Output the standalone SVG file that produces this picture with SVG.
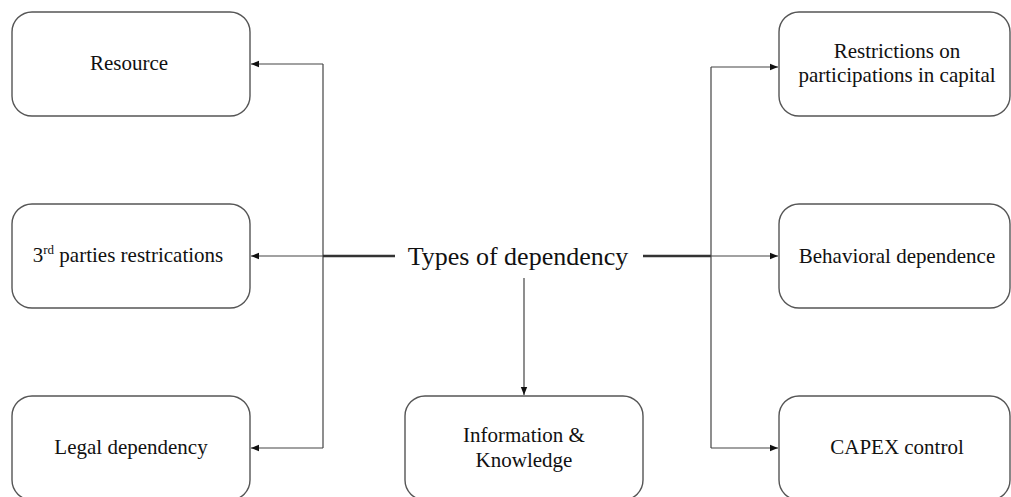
<svg xmlns="http://www.w3.org/2000/svg" width="1011" height="497" viewBox="0 0 1011 497">
<style>
.box{fill:#fff;stroke:#555;stroke-width:1.4}
.lbl{font-family:"Liberation Serif","Times New Roman",serif;font-size:21px;fill:#111;text-anchor:middle}
.title{font-family:"Liberation Serif","Times New Roman",serif;font-size:26px;fill:#111;text-anchor:middle}
.ln{fill:none;stroke:#444;stroke-width:1.2}
.thick{fill:none;stroke:#333;stroke-width:2.6}
</style>
<defs>
<marker id="ah" viewBox="0 0 10 10" refX="10" refY="5" markerWidth="8" markerHeight="8" markerUnits="userSpaceOnUse" orient="auto">
<path d="M0,1 L10,5 L0,9 Z" fill="#111"/>
</marker>
</defs>
<rect width="1011" height="497" fill="#fff"/>
<g id="connectors">
<path class="ln" d="M323,256 L251,256" marker-end="url(#ah)"/>
<path class="ln" d="M323,64 L323,448"/>
<path class="ln" d="M323,64 L251,64" marker-end="url(#ah)"/>
<path class="ln" d="M323,448 L251,448" marker-end="url(#ah)"/>
<path class="thick" d="M323,256 L395,256"/>
<path class="thick" d="M643,256 L711,256"/>
<path class="ln" d="M711,67 L711,448"/>
<path class="ln" d="M711,67 L778,67" marker-end="url(#ah)"/>
<path class="ln" d="M711,256 L778,256" marker-end="url(#ah)"/>
<path class="ln" d="M711,448 L778,448" marker-end="url(#ah)"/>
<path class="ln" d="M524,278 L524,395" marker-end="url(#ah)"/>
</g>
<g id="center">
<text class="title" x="518" y="265">Types of dependency</text>
</g>
<g id="resource">
<rect class="box" x="12" y="12" width="238" height="104" rx="20"/>
<text class="lbl" x="129" y="70">Resource</text>
</g>
<g id="third-parties">
<rect class="box" x="12" y="204" width="238" height="104" rx="20"/>
<text class="lbl" x="128" y="262">3<tspan font-size="13" dy="-8">rd</tspan><tspan dy="8"> parties restrications</tspan></text>
</g>
<g id="legal">
<rect class="box" x="12" y="396" width="238" height="104" rx="20"/>
<text class="lbl" x="131" y="454">Legal dependency</text>
</g>
<g id="information">
<rect class="box" x="405" y="396" width="238" height="104" rx="20"/>
<text class="lbl" x="524" y="442">Information &amp;</text>
<text class="lbl" x="524" y="467">Knowledge</text>
</g>
<g id="restrictions">
<rect class="box" x="779" y="12" width="231" height="104" rx="20"/>
<text class="lbl" x="897" y="58">Restrictions on</text>
<text class="lbl" x="897" y="82">participations in capital</text>
</g>
<g id="behavioral">
<rect class="box" x="779" y="204" width="231" height="104" rx="20"/>
<text class="lbl" x="897" y="263">Behavioral dependence</text>
</g>
<g id="capex">
<rect class="box" x="779" y="396" width="231" height="104" rx="20"/>
<text class="lbl" x="897" y="454">CAPEX control</text>
</g>
</svg>
